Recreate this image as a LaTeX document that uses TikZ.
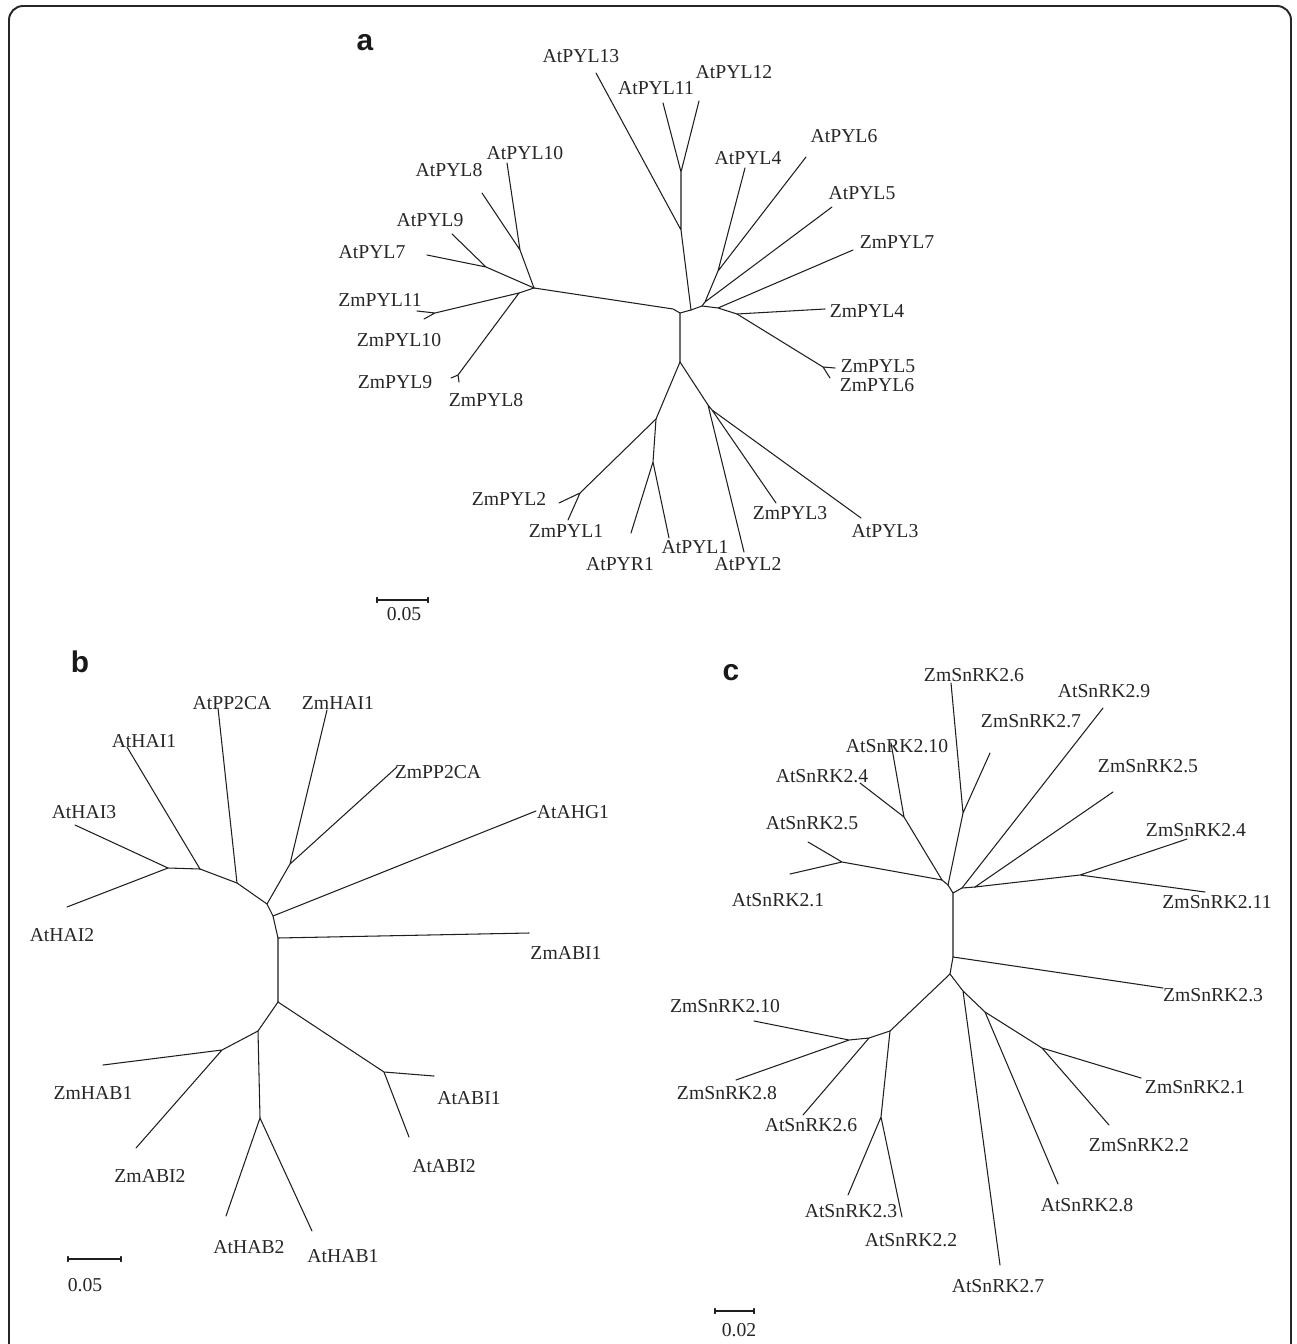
\documentclass[tikz,border=0pt]{standalone}
\usepackage{fontspec}
\setmainfont{Liberation Serif}
\setsansfont{Liberation Sans}
\tikzset{
  branch/.style={line width=0.6pt, line cap=round, line join=round, color=black!88},
  taxon/.style={inner sep=0pt, font=\fontsize{11.2}{13}\selectfont, text=black!85},
  panel/.style={inner sep=0pt, font=\fontsize{17}{20}\selectfont\sffamily\bfseries, text=black!90},
}
\begin{document}
\begin{tikzpicture}[x=0.02cm, y=-0.02cm]
	\useasboundingbox (0,0) rectangle (1296,1344);
	\draw[line width=1.1pt, rounded corners=8, black!85] (9,1352) -- (9,6) -- (1291,6) -- (1291,1352);
	
	% ---------- a ----------
	\coordinate (a0) at (680,313);
	\coordinate (a0l) at (673,309);
	\coordinate (aL1) at (534,288);
	\coordinate (aL2) at (520,250);
	\coordinate (aL3) at (486,267);
	\coordinate (aL4) at (519,293);
	\coordinate (aL5) at (435,313);
	\coordinate (aL6) at (458,375);
	\coordinate (aU) at (691,310);
	\coordinate (aU1) at (681,230);
	\coordinate (aU2) at (681,172);
	\coordinate (aR0) at (702,306);
	\coordinate (aR1) at (705,302);
	\coordinate (aR2) at (718,271);
	\coordinate (aR3) at (718,308);
	\coordinate (aR4) at (737,314);
	\coordinate (aR5) at (823,367);
	\coordinate (aD) at (680,362);
	\coordinate (aB1) at (656,419);
	\coordinate (aB2) at (708,405);
	\coordinate (aB3) at (580,493);
	\coordinate (aB4) at (653,462);
	\coordinate (aB5) at (712,410);
	
	\coordinate (AtPYL10) at (507,163);
	\coordinate (AtPYL8) at (482,193);
	\coordinate (AtPYL9) at (452,234);
	\coordinate (AtPYL7) at (427,255);
	\coordinate (ZmPYL11) at (417,311);
	\coordinate (ZmPYL10) at (424,319);
	\coordinate (ZmPYL9) at (451,378);
	\coordinate (ZmPYL8) at (459,382);
	\coordinate (AtPYL13) at (596,73);
	\coordinate (AtPYL11) at (663,103);
	\coordinate (AtPYL12) at (699,101);
	\coordinate (AtPYL4) at (745,168);
	\coordinate (AtPYL6) at (806,157);
	\coordinate (AtPYL5) at (832,207);
	\coordinate (ZmPYL7) at (853,250);
	\coordinate (ZmPYL4) at (825,309);
	\coordinate (ZmPYL5) at (835,368);
	\coordinate (ZmPYL6) at (830,378);
	\coordinate (ZmPYL2) at (559,503);
	\coordinate (ZmPYL1) at (568,520);
	\coordinate (AtPYR1) at (631,533);
	\coordinate (AtPYL1) at (669,538);
	\coordinate (AtPYL2) at (744,552);
	\coordinate (ZmPYL3) at (776,503);
	\coordinate (AtPYL3) at (861,518);
	
	\draw[branch] (aL1) -- (a0l) -- (a0) -- (aU) -- (aR0) (a0) -- (aD);
	\draw[branch] (aL1) -- (aL2) -- (AtPYL10) (aL2) -- (AtPYL8);
	\draw[branch] (aL1) -- (aL3) -- (AtPYL9) (aL3) -- (AtPYL7);
	\draw[branch] (aL1) -- (aL4) -- (aL5) -- (ZmPYL11) (aL5) -- (ZmPYL10);
	\draw[branch] (aL4) -- (aL6) -- (ZmPYL9) (aL6) -- (ZmPYL8);
	\draw[branch] (aU) -- (aU1) -- (AtPYL13) (aU1) -- (aU2) -- (AtPYL11) (aU2) -- (AtPYL12);
	\draw[branch] (aR0) -- (aR1) -- (aR2) -- (AtPYL4) (aR2) -- (AtPYL6) (aR1) -- (AtPYL5);
	\draw[branch] (aR0) -- (aR3) -- (ZmPYL7) (aR3) -- (aR4) -- (ZmPYL4);
	\draw[branch] (aR4) -- (aR5) -- (ZmPYL5) (aR5) -- (ZmPYL6);
	\draw[branch] (aD) -- (aB1) -- (aB3) -- (ZmPYL2) (aB3) -- (ZmPYL1);
	\draw[branch] (aB1) -- (aB4) -- (AtPYR1) (aB4) -- (AtPYL1);
	\draw[branch] (aD) -- (aB2) -- (AtPYL2) (aB2) -- (aB5) -- (ZmPYL3) (aB5) -- (AtPYL3);
	
	\node[panel] (pa) at (365,43) {a};
	\node[taxon] (tAtPYL13) at (581,56) {AtPYL13};
	\node[taxon] (tAtPYL11) at (656,88) {AtPYL11};
	\node[taxon] (tAtPYL12) at (734,72) {AtPYL12};
	\node[taxon] (tAtPYL10) at (525,153) {AtPYL10};
	\node[taxon] (tAtPYL8) at (449,170) {AtPYL8};
	\node[taxon] (tAtPYL9) at (430,220) {AtPYL9};
	\node[taxon] (tAtPYL7) at (372,252) {AtPYL7};
	\node[taxon] (tZmPYL11) at (380,300) {ZmPYL11};
	\node[taxon] (tZmPYL10) at (399,340) {ZmPYL10};
	\node[taxon] (tZmPYL9) at (395,382) {ZmPYL9};
	\node[taxon] (tZmPYL8) at (486,400) {ZmPYL8};
	\node[taxon] (tAtPYL4) at (748,158) {AtPYL4};
	\node[taxon] (tAtPYL6) at (844,136) {AtPYL6};
	\node[taxon] (tAtPYL5) at (862,193) {AtPYL5};
	\node[taxon] (tZmPYL7) at (897,242) {ZmPYL7};
	\node[taxon] (tZmPYL4) at (867,311) {ZmPYL4};
	\node[taxon] (tZmPYL5) at (878,366) {ZmPYL5};
	\node[taxon] (tZmPYL6) at (877,385) {ZmPYL6};
	\node[taxon] (tZmPYL2) at (509,499) {ZmPYL2};
	\node[taxon] (tZmPYL1) at (566,531) {ZmPYL1};
	\node[taxon] (tAtPYR1) at (620,564) {AtPYR1};
	\node[taxon] (tAtPYL1) at (695,547) {AtPYL1};
	\node[taxon] (tAtPYL2) at (748,564) {AtPYL2};
	\node[taxon] (tZmPYL3) at (790,513) {ZmPYL3};
	\node[taxon] (tAtPYL3) at (885,531) {AtPYL3};
	
	\coordinate (sa1) at (377,600);
	\coordinate (sa2) at (428,600);
	\draw[branch] (sa1) -- (sa2) (sa1) ++(0,-2.5) -- ++(0,5) (sa2) ++(0,-2.5) -- ++(0,5);
	\node[taxon] (la) at (404,614) {0.05};
	
	% ---------- b ----------
	\coordinate (b1) at (168,868);
	\coordinate (b2) at (200,869);
	\coordinate (b3) at (237,883);
	\coordinate (b4) at (267,904);
	\coordinate (b5) at (290,864);
	\coordinate (b6) at (273,916);
	\coordinate (b7) at (278,938);
	\coordinate (b8) at (278,1002);
	\coordinate (b9) at (258,1031);
	\coordinate (b10) at (384,1072);
	\coordinate (b11) at (222,1050);
	\coordinate (b12) at (260,1118);
	
	\coordinate (AtHAI3) at (75,825);
	\coordinate (AtHAI2) at (67,907);
	\coordinate (AtHAI1) at (127,747);
	\coordinate (AtPP2CA) at (218,708);
	\coordinate (ZmHAI1) at (327,710);
	\coordinate (ZmPP2CA) at (397,767);
	\coordinate (AtAHG1) at (536,811);
	\coordinate (ZmABI1) at (529,933);
	\coordinate (AtABI1) at (434,1076);
	\coordinate (AtABI2) at (409,1137);
	\coordinate (ZmHAB1) at (103,1065);
	\coordinate (ZmABI2) at (136,1148);
	\coordinate (AtHAB2) at (226,1216);
	\coordinate (AtHAB1) at (312,1231);
	
	\draw[branch] (AtHAI3) -- (b1) -- (AtHAI2) (b1) -- (b2) -- (b3) -- (b4) -- (b6) -- (b7) -- (b8);
	\draw[branch] (b2) -- (AtHAI1) (b3) -- (AtPP2CA);
	\draw[branch] (b4) -- (b5) -- (ZmHAI1) (b5) -- (ZmPP2CA);
	\draw[branch] (b6) -- (AtAHG1) (b7) -- (ZmABI1);
	\draw[branch] (b8) -- (b10) -- (AtABI1) (b10) -- (AtABI2);
	\draw[branch] (b8) -- (b9) -- (b11) -- (ZmHAB1) (b11) -- (ZmABI2);
	\draw[branch] (b9) -- (b12) -- (AtHAB2) (b12) -- (AtHAB1);
	
	\node[panel] (pb) at (80,662) {b};
	\node[taxon] (tAtHAI1) at (144,741) {AtHAI1};
	\node[taxon] (tAtPP2CA) at (232,703) {AtPP2CA};
	\node[taxon] (tZmHAI1) at (338,703) {ZmHAI1};
	\node[taxon] (tZmPP2CA) at (438,772) {ZmPP2CA};
	\node[taxon] (tAtAHG1) at (573,812) {AtAHG1};
	\node[taxon] (tZmABI1) at (566,953) {ZmABI1};
	\node[taxon] (tAtHAI3) at (84,812) {AtHAI3};
	\node[taxon] (tAtHAI2) at (62,935) {AtHAI2};
	\node[taxon] (tZmHAB1) at (93,1093) {ZmHAB1};
	\node[taxon] (tZmABI2) at (150,1176) {ZmABI2};
	\node[taxon] (tAtHAB2) at (249,1247) {AtHAB2};
	\node[taxon] (tAtHAB1) at (343,1256) {AtHAB1};
	\node[taxon] (tAtABI1) at (469,1098) {AtABI1};
	\node[taxon] (tAtABI2) at (444,1166) {AtABI2};
	
	\coordinate (sb1) at (68,1259);
	\coordinate (sb2) at (121,1259);
	\draw[branch] (sb1) -- (sb2) (sb1) ++(0,-2.5) -- ++(0,5) (sb2) ++(0,-2.5) -- ++(0,5);
	\node[taxon] (lb) at (85,1285) {0.05};
	
	% ---------- c ----------
	\coordinate (c1) at (953,893);
	\coordinate (c2) at (948,885);
	\coordinate (c3) at (942,880);
	\coordinate (c4) at (904,817);
	\coordinate (c5) at (842,862);
	\coordinate (c6) at (963,813);
	\coordinate (c7) at (962,888);
	\coordinate (c8) at (975,887);
	\coordinate (c9) at (1080,875);
	\coordinate (c10) at (953,957);
	\coordinate (c11) at (950,974);
	\coordinate (c12) at (890,1031);
	\coordinate (c13) at (963,991);
	\coordinate (c14) at (869,1038);
	\coordinate (c15) at (849,1040);
	\coordinate (c16) at (881,1117);
	\coordinate (c17) at (985,1012);
	\coordinate (c18) at (1042,1048);
	
	\coordinate (AtSnRK210) at (891,743);
	\coordinate (AtSnRK24) at (860,783);
	\coordinate (AtSnRK25) at (808,842);
	\coordinate (AtSnRK21) at (790,874);
	\coordinate (ZmSnRK26) at (951,683);
	\coordinate (ZmSnRK27) at (990,753);
	\coordinate (AtSnRK29) at (1103,708);
	\coordinate (ZmSnRK25) at (1113,792);
	\coordinate (ZmSnRK24) at (1187,839);
	\coordinate (ZmSnRK211) at (1205,892);
	\coordinate (ZmSnRK23) at (1163,988);
	\coordinate (ZmSnRK210) at (754,1021);
	\coordinate (ZmSnRK28) at (736,1080);
	\coordinate (AtSnRK26) at (803,1115);
	\coordinate (AtSnRK23) at (848,1195);
	\coordinate (AtSnRK22) at (902,1217);
	\coordinate (AtSnRK27) at (1000,1265);
	\coordinate (AtSnRK28) at (1058,1184);
	\coordinate (ZmSnRK21) at (1141,1078);
	\coordinate (ZmSnRK22) at (1109,1125);
	
	\draw[branch] (c3) -- (c2) -- (c1) -- (c7) -- (c8) (c1) -- (c10) -- (c11);
	\draw[branch] (c3) -- (c4) -- (AtSnRK210) (c4) -- (AtSnRK24);
	\draw[branch] (c3) -- (c5) -- (AtSnRK25) (c5) -- (AtSnRK21);
	\draw[branch] (c2) -- (c6) -- (ZmSnRK26) (c6) -- (ZmSnRK27);
	\draw[branch] (c7) -- (AtSnRK29) (c8) -- (ZmSnRK25);
	\draw[branch] (c8) -- (c9) -- (ZmSnRK24) (c9) -- (ZmSnRK211);
	\draw[branch] (c10) -- (ZmSnRK23);
	\draw[branch] (c11) -- (c12) -- (c14) -- (c15) -- (ZmSnRK210) (c15) -- (ZmSnRK28) (c14) -- (AtSnRK26);
	\draw[branch] (c12) -- (c16) -- (AtSnRK23) (c16) -- (AtSnRK22);
	\draw[branch] (c11) -- (c13) -- (AtSnRK27) (c13) -- (c17) -- (AtSnRK28);
	\draw[branch] (c17) -- (c18) -- (ZmSnRK21) (c18) -- (ZmSnRK22);
	
	\node[panel] (pc) at (731,673) {c};
	\node[taxon] (tZmSnRK26) at (974,675) {ZmSnRK2.6};
	\node[taxon] (tAtSnRK29) at (1104,691) {AtSnRK2.9};
	\node[taxon] (tZmSnRK27) at (1031,721) {ZmSnRK2.7};
	\node[taxon] (tAtSnRK210) at (897,746) {AtSnRK2.10};
	\node[taxon] (tAtSnRK24) at (822,776) {AtSnRK2.4};
	\node[taxon] (tZmSnRK25) at (1148,766) {ZmSnRK2.5};
	\node[taxon] (tAtSnRK25) at (812,823) {AtSnRK2.5};
	\node[taxon] (tZmSnRK24) at (1196,830) {ZmSnRK2.4};
	\node[taxon] (tAtSnRK21) at (778,900) {AtSnRK2.1};
	\node[taxon] (tZmSnRK211) at (1217,902) {ZmSnRK2.11};
	\node[taxon] (tZmSnRK23) at (1213,995) {ZmSnRK2.3};
	\node[taxon] (tZmSnRK210) at (725,1006) {ZmSnRK2.10};
	\node[taxon] (tZmSnRK28) at (727,1093) {ZmSnRK2.8};
	\node[taxon] (tAtSnRK26) at (811,1125) {AtSnRK2.6};
	\node[taxon] (tZmSnRK21) at (1195,1087) {ZmSnRK2.1};
	\node[taxon] (tZmSnRK22) at (1139,1145) {ZmSnRK2.2};
	\node[taxon] (tAtSnRK28) at (1087,1205) {AtSnRK2.8};
	\node[taxon] (tAtSnRK23) at (851,1211) {AtSnRK2.3};
	\node[taxon] (tAtSnRK22) at (911,1240) {AtSnRK2.2};
	\node[taxon] (tAtSnRK27) at (998,1286) {AtSnRK2.7};
	
	\coordinate (sc1) at (715,1311);
	\coordinate (sc2) at (754,1311);
	\draw[branch] (sc1) -- (sc2) (sc1) ++(0,-2.5) -- ++(0,5) (sc2) ++(0,-2.5) -- ++(0,5);
	\node[taxon] (lc) at (739,1330) {0.02};
\end{tikzpicture}
\end{document}
